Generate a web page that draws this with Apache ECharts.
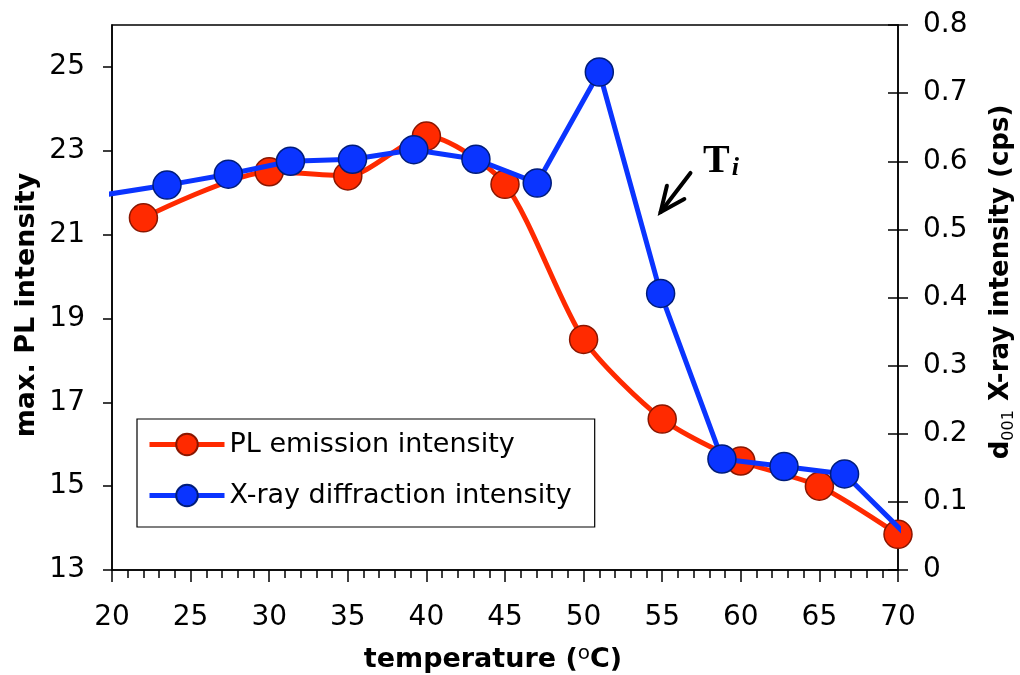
<!DOCTYPE html>
<html>
<head>
<meta charset="utf-8">
<script src="https://cdn.jsdelivr.net/npm/echarts@6/dist/echarts.min.js"></script>
<style>
  html, body { margin: 0; padding: 0; background: #ffffff; }
  #chart { width: 1020px; height: 675px; }
</style>
</head>
<body>
<div id="chart"></div>
<script>
// PL emission maximum vs temperature (left axis)
const plTemps  = [22, 30, 35, 40, 45, 50, 55, 60, 65, 70];
const plValues = [21.4, 22.5, 22.4, 23.35, 22.2, 18.5, 16.6, 15.6, 15.0, 13.85];

// d001 X-ray diffraction intensity vs temperature (right axis);
// the first and last entries are the ends of the trace and carry no marker
const xrdTemps  = [19.6, 23.5, 27.4, 31.35, 35.3, 39.2, 43.15, 47.05, 51.0, 54.9, 58.8, 62.75, 66.6, 70.8];
const xrdValues = [0.551, 0.565, 0.581, 0.600, 0.603, 0.617, 0.603, 0.568, 0.731, 0.406, 0.163, 0.152, 0.141, 0.045];

const leftTicks  = [13, 15, 17, 19, 21, 23, 25];
const rightTicks = [0, 0.1, 0.2, 0.3, 0.4, 0.5, 0.6, 0.7, 0.8];

// T_i annotation anchors, in (temperature, PL intensity) units
const arrowTip   = [54.9, 21.54];
const arrowTail  = [56.8, 22.47];
const labelPoint = [57.6, 22.75];

const SANS = 'DejaVu Sans';
const RED = '#ff2a00', RED_EDGE = '#8a1600';
const BLUE = '#0a34ff', BLUE_EDGE = '#001c7a';

const chart = echarts.init(document.getElementById('chart'));

const plData = plTemps.map((t, i) => [t, plValues[i]]);
const xrdData = xrdTemps.map((t, i) => {
  const ends = (i === 0 || i === xrdTemps.length - 1);
  return ends ? { value: [t, xrdValues[i]], symbol: 'none' } : [t, xrdValues[i]];
});

const axisLineStyle = { color: '#000', width: 1.5 };

chart.setOption({
  animation: false,
  backgroundColor: '#ffffff',
  grid: {
    left: 112, right: 122, top: 25, bottom: 105,
    show: true, borderColor: '#000', borderWidth: 1.5, backgroundColor: 'transparent'
  },
  legend: {
    orient: 'vertical',
    left: 137, top: 419,
    padding: [12, 23, 18, 10],
    itemGap: 24,
    itemWidth: 75, itemHeight: 27,
    backgroundColor: '#ffffff',
    borderColor: '#000', borderWidth: 1.2, borderRadius: 0,
    lineStyle: { width: 5 },
    textStyle: { fontFamily: SANS, fontSize: 27, color: '#000', padding: [0, 0, 0, 0] },
    data: ['PL emission intensity', 'X-ray diffraction intensity']
  },
  xAxis: {
    type: 'value', min: 20, max: 70, interval: 5,
    axisLine: { lineStyle: axisLineStyle },
    axisTick: { show: true, inside: false, length: 12, lineStyle: { color: '#000', width: 1.5 } },
    minorTick: { show: true, splitNumber: 5, length: 8, lineStyle: { color: '#000', width: 1.5 } },
    splitLine: { show: false },
    minorSplitLine: { show: false },
    axisLabel: { margin: 34, fontFamily: SANS, fontSize: 28, color: '#000' }
  },
  yAxis: [
    {
      type: 'value', min: 13, max: 26, position: 'left',
      axisLine: { show: true, lineStyle: axisLineStyle },
      axisTick: { show: true, inside: false, length: 9, customValues: leftTicks,
                  lineStyle: { color: '#000', width: 1.5 } },
      splitLine: { show: false },
      axisLabel: { margin: 27, fontFamily: SANS, fontSize: 28, color: '#000', customValues: leftTicks }
    },
    {
      type: 'value', min: 0, max: 0.8, interval: 0.1, position: 'right',
      axisLine: { show: true, onZero: false, lineStyle: axisLineStyle },
      axisTick: { show: true, inside: false, length: 10, lineStyle: { color: '#000', width: 1.5 } },
      splitLine: { show: false },
      axisLabel: { margin: 25, fontFamily: SANS, fontSize: 28, color: '#000',
                   formatter: v => String(Math.round(v * 10) / 10) }
    },
    {
      // same scale as the right axis, carrying the inward half of its crossing ticks
      type: 'value', min: 0, max: 0.8, interval: 0.1, position: 'right',
      axisLine: { show: false },
      axisTick: { show: true, inside: true, length: 10, lineStyle: { color: '#000', width: 1.5 } },
      splitLine: { show: false },
      axisLabel: { show: false }
    }
  ],
  series: [
    {
      name: 'PL emission intensity',
      type: 'line',
      xAxisIndex: 0, yAxisIndex: 0,
      data: plData,
      smooth: 0.25,
      symbol: 'circle', symbolSize: 28,
      lineStyle: { color: RED, width: 5 },
      itemStyle: { color: RED, borderColor: RED_EDGE, borderWidth: 1.5 },
      z: 2
    },
    {
      name: 'X-ray diffraction intensity',
      type: 'line',
      xAxisIndex: 0, yAxisIndex: 1,
      data: xrdData,
      clip: false,
      symbol: 'circle', symbolSize: 28,
      lineStyle: { color: BLUE, width: 5 },
      itemStyle: { color: BLUE, borderColor: BLUE_EDGE, borderWidth: 1.5 },
      z: 3
    }
  ]
});

// axis titles and the T_i arrow annotation
function px(p) { return chart.convertToPixel({ xAxisIndex: 0, yAxisIndex: 0 }, p); }
const tip = px(arrowTip), tail = px(arrowTail), lab = px(labelPoint);
const dx = tip[0] - tail[0], dy = tip[1] - tail[1];
const len = Math.hypot(dx, dy), ux = dx / len, uy = dy / len;
const headLen = 27, ang = 24 * Math.PI / 180;
function barb(sign) {
  const c = Math.cos(sign * ang), s = Math.sin(sign * ang);
  const bx = ux * c - uy * s, by = ux * s + uy * c;
  return [tip[0] - headLen * bx, tip[1] - headLen * by];
}

chart.setOption({
  graphic: [
    {
      type: 'text', x: 27, y: 305, rotation: Math.PI / 2,
      style: { text: 'max. PL intensity', fontFamily: SANS, fontWeight: 'bold', fontSize: 27,
               fill: '#000', align: 'center', verticalAlign: 'middle' }
    },
    {
      type: 'text', x: 493, y: 660,
      style: {
        text: '{a|temperature (}{s|o}{a|C)}',
        align: 'center', verticalAlign: 'middle',
        rich: {
          a: { fontFamily: SANS, fontWeight: 'bold', fontSize: 27, fill: '#000', lineHeight: 32 },
          s: { fontFamily: SANS, fontSize: 20, fill: '#000', verticalAlign: 'top', lineHeight: 20 }
        }
      }
    },
    {
      type: 'text', x: 1001, y: 282, rotation: Math.PI / 2,
      style: {
        text: '{a|d}{s|001}{a| X-ray intensity (cps)}',
        align: 'center', verticalAlign: 'middle',
        rich: {
          a: { fontFamily: SANS, fontWeight: 'bold', fontSize: 26, fill: '#000', lineHeight: 32 },
          s: { fontFamily: SANS, fontSize: 16, fill: '#000', verticalAlign: 'bottom', lineHeight: 18 }
        }
      }
    },
    {
      type: 'polyline',
      shape: { points: [tail, tip] },
      style: { stroke: '#000', lineWidth: 4, lineCap: 'round' }
    },
    {
      type: 'polyline',
      shape: { points: [barb(1), tip, barb(-1)] },
      style: { stroke: '#000', fill: null, lineWidth: 4, lineCap: 'round', lineJoin: 'miter' }
    },
    {
      type: 'text', x: lab[0], y: lab[1],
      style: {
        text: '{t|T}{i|i}',
        align: 'left', verticalAlign: 'middle',
        rich: {
          t: { fontFamily: 'Liberation Serif', fontWeight: 'bold', fontSize: 40, fill: '#000', lineHeight: 40 },
          i: { fontFamily: 'Liberation Serif', fontWeight: 'bold', fontStyle: 'italic', fontSize: 26,
               fill: '#000', verticalAlign: 'bottom', lineHeight: 26, padding: [0, 0, 0, 2] }
        }
      }
    }
  ]
});
</script>
</body>
</html>
